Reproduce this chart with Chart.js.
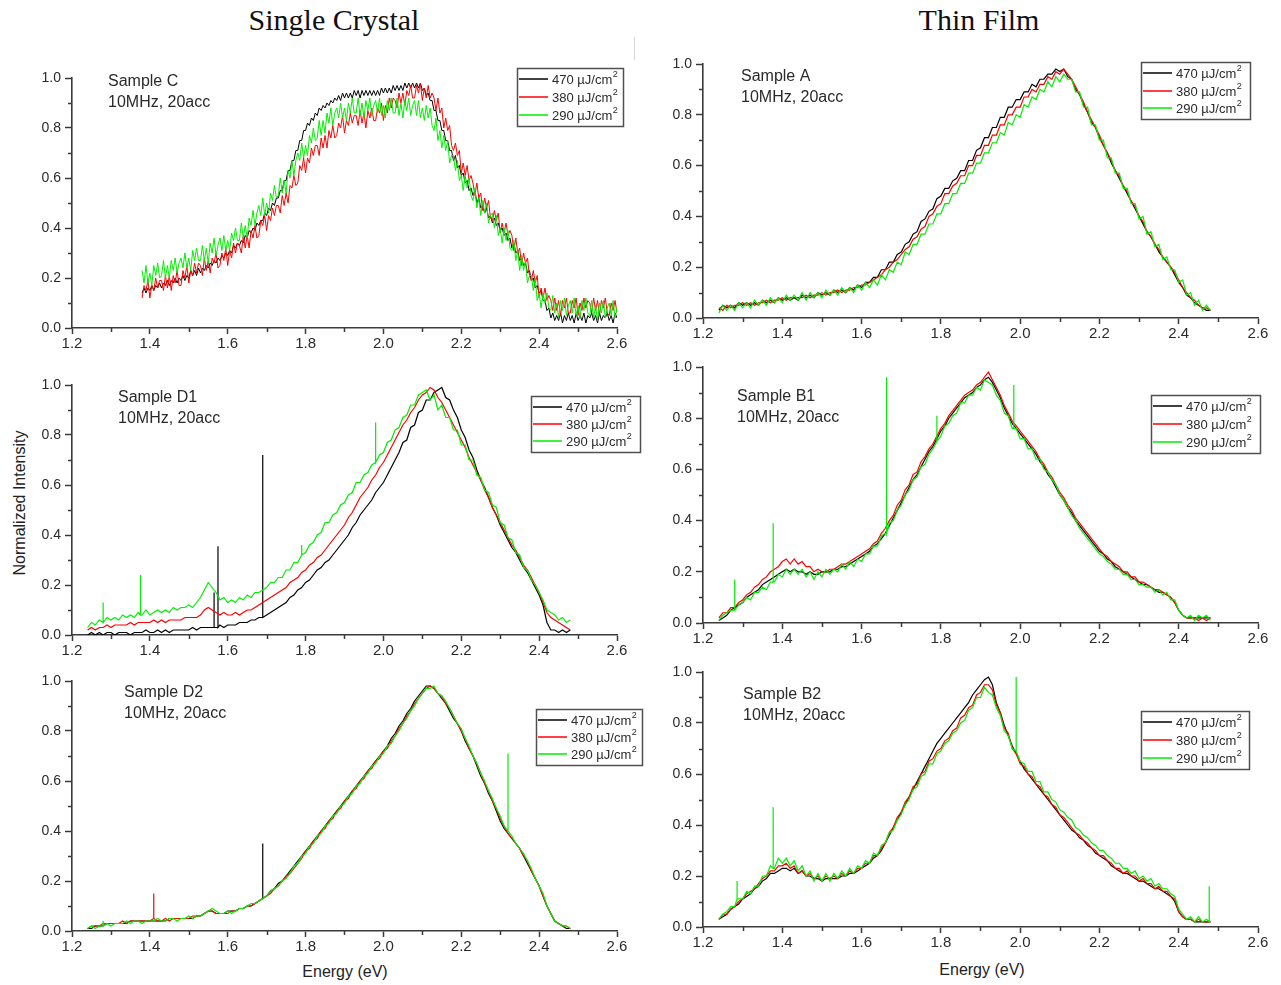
<!DOCTYPE html>
<html>
<head>
<meta charset="utf-8">
<title>PL spectra</title>
<script src="https://cdn.jsdelivr.net/npm/chart.js@4.4.0/dist/chart.umd.min.js"></script>
<style>
    body { margin: 0; background: #fff; width: 1281px; height: 985px; position: relative; overflow: hidden;
           font-family: "Liberation Sans", Arial, sans-serif; }
    canvas { position: absolute; }
    .title { position: absolute; top: 5px; line-height: 1; font-family: "Liberation Serif", "Times New Roman", serif;
             font-size: 30px; color: #111; transform: translateX(-50%); white-space: nowrap; }
    .axis-label { position: absolute; line-height: 1; font-size: 16px; color: #222; white-space: nowrap; }
</style>
</head>
<body>
<div class="title" style="left:334px">Single Crystal</div>
<div class="title" style="left:979px">Thin Film</div>
<div style="position:absolute;left:634px;top:37px;width:1px;height:23px;background:#d6d6d6"></div>
<div class="axis-label" style="left:345px;top:964px;transform:translateX(-50%)">Energy (eV)</div>
<div class="axis-label" style="left:982px;top:962px;transform:translateX(-50%)">Energy (eV)</div>
<div class="axis-label" style="left:20px;top:503px;transform:translate(-50%,-50%) rotate(-90deg)">Normalized Intensity</div>

<script>
//////////////
//
//   DATA
//
//////////////

    var stepC = 0.005;      // sample C was recorded on a finer grid
    var stepRest = 0.01;
    var startC = 1.38;
    var startRest = 1.24;

    var xTicks = [1.2, 1.4, 1.6, 1.8, 2.0, 2.2, 2.4, 2.6];
    var yTicks = [0.0, 0.2, 0.4, 0.6, 0.8, 1.0];

    var fluenceLabels = ['470 µJ/cm²', '380 µJ/cm²', '290 µJ/cm²'];
    var seriesColors = ['#000000', '#ff0000', '#00ee00'];

    // ---- Sample C (single crystal), 1.380 .. 2.600 eV, 0.005 eV steps
    var c470 = [
        0.14,0.16,0.14,0.16,0.15,0.17,0.15,0.17,0.16,0.18,
        0.16,0.18,0.17,0.19,0.17,0.19,0.18,0.20,0.18,0.20,
        0.19,0.21,0.19,0.21,0.20,0.23,0.21,0.23,0.21,0.24,
        0.22,0.24,0.23,0.25,0.24,0.26,0.25,0.27,0.26,0.28,
        0.27,0.29,0.28,0.30,0.29,0.31,0.30,0.33,0.32,0.34,
        0.33,0.35,0.34,0.37,0.36,0.39,0.38,0.40,0.39,0.42,
        0.41,0.43,0.43,0.46,0.45,0.48,0.47,0.50,0.49,0.52,
        0.52,0.55,0.55,0.59,0.59,0.63,0.63,0.67,0.67,0.71,
        0.71,0.75,0.75,0.79,0.79,0.82,0.81,0.84,0.83,0.86,
        0.85,0.88,0.87,0.89,0.88,0.90,0.89,0.91,0.90,0.92,
        0.91,0.93,0.91,0.94,0.92,0.94,0.92,0.94,0.92,0.95,
        0.93,0.95,0.92,0.95,0.93,0.95,0.93,0.95,0.93,0.95,
        0.93,0.95,0.93,0.96,0.94,0.96,0.94,0.96,0.94,0.97,
        0.95,0.97,0.95,0.97,0.95,0.98,0.96,0.98,0.96,0.98,
        0.96,0.98,0.96,0.98,0.95,0.96,0.93,0.94,0.91,0.91,
        0.87,0.87,0.83,0.83,0.79,0.79,0.75,0.75,0.71,0.71,
        0.67,0.69,0.64,0.65,0.61,0.62,0.58,0.59,0.55,0.56,
        0.53,0.55,0.50,0.52,0.48,0.49,0.46,0.48,0.44,0.45,
        0.42,0.44,0.41,0.42,0.39,0.40,0.37,0.38,0.35,0.36,
        0.32,0.34,0.30,0.31,0.27,0.28,0.25,0.26,0.22,0.23,
        0.19,0.20,0.16,0.17,0.14,0.15,0.11,0.11,0.07,0.08,
        0.04,0.06,0.03,0.05,0.03,0.06,0.02,0.05,0.03,0.06,
        0.03,0.05,0.02,0.06,0.03,0.05,0.03,0.06,0.02,0.05,
        0.04,0.06,0.03,0.05,0.02,0.06,0.03,0.05,0.04,0.06,
        0.03,0.05,0.02,0.06,0.04
    ];
    var c380 = [
        0.12,0.17,0.15,0.19,0.12,0.17,0.15,0.20,0.16,0.19,
        0.19,0.15,0.21,0.16,0.21,0.15,0.21,0.18,0.23,0.17,
        0.17,0.23,0.20,0.25,0.18,0.23,0.21,0.26,0.22,0.26,
        0.25,0.21,0.28,0.23,0.27,0.22,0.28,0.26,0.30,0.24,
        0.25,0.30,0.27,0.32,0.25,0.31,0.28,0.34,0.30,0.34,
        0.33,0.30,0.37,0.32,0.37,0.32,0.39,0.36,0.41,0.36,
        0.37,0.43,0.41,0.45,0.39,0.45,0.43,0.48,0.45,0.49,
        0.49,0.46,0.53,0.49,0.54,0.50,0.57,0.56,0.61,0.57,
        0.58,0.65,0.63,0.68,0.62,0.68,0.66,0.72,0.69,0.73,
        0.73,0.69,0.76,0.72,0.77,0.72,0.79,0.76,0.81,0.76,
        0.77,0.82,0.80,0.85,0.78,0.83,0.81,0.86,0.82,0.85,
        0.85,0.81,0.87,0.82,0.86,0.80,0.87,0.84,0.88,0.83,
        0.83,0.88,0.86,0.90,0.83,0.89,0.86,0.92,0.88,0.92,
        0.91,0.88,0.94,0.90,0.94,0.89,0.95,0.93,0.97,0.92,
        0.92,0.97,0.94,0.98,0.91,0.96,0.92,0.97,0.92,0.94,
        0.92,0.87,0.92,0.86,0.88,0.80,0.84,0.79,0.81,0.73,
        0.71,0.74,0.69,0.71,0.62,0.66,0.61,0.65,0.59,0.61,
        0.58,0.53,0.58,0.52,0.54,0.47,0.52,0.48,0.51,0.44,
        0.43,0.47,0.43,0.46,0.38,0.42,0.38,0.42,0.37,0.39,
        0.37,0.31,0.36,0.30,0.32,0.25,0.30,0.26,0.28,0.21,
        0.19,0.23,0.18,0.21,0.12,0.16,0.12,0.16,0.11,0.13,
        0.11,0.07,0.12,0.07,0.11,0.05,0.11,0.08,0.12,0.06,
        0.06,0.11,0.08,0.12,0.05,0.10,0.07,0.12,0.08,0.11,
        0.10,0.06,0.12,0.07,0.11,0.05,0.11,0.08,0.12,0.06,
        0.05,0.10,0.07,0.11,0.06
    ];
    var c290 = [
        0.23,0.18,0.25,0.18,0.22,0.17,0.25,0.21,0.26,0.20,
        0.21,0.27,0.20,0.25,0.20,0.27,0.23,0.28,0.22,0.26,
        0.28,0.24,0.30,0.24,0.28,0.23,0.31,0.27,0.32,0.27,
        0.27,0.33,0.27,0.32,0.26,0.34,0.30,0.36,0.29,0.33,
        0.36,0.31,0.37,0.31,0.35,0.31,0.38,0.35,0.40,0.35,
        0.35,0.42,0.36,0.41,0.36,0.44,0.41,0.47,0.41,0.46,
        0.49,0.45,0.52,0.45,0.50,0.46,0.54,0.51,0.57,0.52,
        0.53,0.60,0.54,0.59,0.54,0.63,0.60,0.67,0.61,0.67,
        0.70,0.67,0.74,0.68,0.73,0.69,0.77,0.74,0.80,0.75,
        0.76,0.83,0.77,0.83,0.78,0.86,0.82,0.88,0.81,0.86,
        0.88,0.84,0.90,0.84,0.88,0.83,0.90,0.86,0.92,0.86,
        0.86,0.92,0.85,0.90,0.84,0.91,0.87,0.92,0.85,0.89,
        0.91,0.86,0.92,0.85,0.89,0.84,0.91,0.87,0.92,0.86,
        0.86,0.92,0.85,0.90,0.84,0.91,0.87,0.92,0.85,0.89,
        0.91,0.85,0.91,0.84,0.88,0.83,0.89,0.84,0.88,0.81,
        0.79,0.84,0.75,0.79,0.72,0.77,0.71,0.75,0.66,0.69,
        0.69,0.63,0.67,0.59,0.61,0.55,0.61,0.56,0.60,0.53,
        0.51,0.56,0.48,0.52,0.45,0.51,0.46,0.50,0.42,0.45,
        0.46,0.40,0.45,0.37,0.40,0.34,0.40,0.35,0.39,0.32,
        0.31,0.35,0.27,0.31,0.23,0.29,0.23,0.27,0.18,0.21,
        0.21,0.15,0.20,0.11,0.14,0.08,0.14,0.10,0.14,0.08,
        0.07,0.13,0.06,0.10,0.04,0.11,0.07,0.12,0.05,0.09,
        0.11,0.06,0.12,0.05,0.09,0.04,0.11,0.07,0.12,0.06,
        0.05,0.11,0.04,0.09,0.03,0.10,0.06,0.11,0.04,0.08,
        0.10,0.05,0.11,0.04,0.08
    ];

    // ---- Sample D1 (single crystal), 1.24 .. 2.48 eV
    var d1_470 = [
        0.00,0.01,0.00,0.01,0.00,0.01,0.01,0.00,0.01,0.01,
        0.01,0.00,0.01,0.01,0.01,0.02,0.01,0.01,0.02,0.01,
        0.02,0.01,0.02,0.02,0.02,0.02,0.02,0.03,0.02,0.03,
        0.03,0.03,0.03,0.03,0.04,0.03,0.04,0.04,0.04,0.05,
        0.05,0.05,0.06,0.06,0.07,0.07,0.08,0.09,0.10,0.11,
        0.12,0.13,0.15,0.16,0.18,0.19,0.21,0.22,0.24,0.26,
        0.27,0.29,0.30,0.32,0.34,0.36,0.38,0.40,0.43,0.45,
        0.48,0.50,0.52,0.54,0.57,0.59,0.61,0.64,0.67,0.70,
        0.73,0.77,0.78,0.83,0.84,0.89,0.90,0.94,0.94,0.97,
        0.98,0.99,0.95,0.94,0.90,0.87,0.82,0.79,0.74,0.71,
        0.66,0.62,0.59,0.55,0.51,0.48,0.44,0.41,0.38,0.35,
        0.33,0.30,0.27,0.25,0.22,0.19,0.16,0.12,0.05,0.02,
        0.02,0.01,0.02,0.01,0.02
    ];
    var d1_380 = [
        0.02,0.03,0.02,0.03,0.03,0.04,0.03,0.04,0.04,0.04,
        0.04,0.05,0.04,0.05,0.05,0.05,0.05,0.06,0.05,0.06,
        0.05,0.06,0.06,0.06,0.06,0.07,0.07,0.07,0.07,0.08,
        0.10,0.11,0.10,0.09,0.08,0.09,0.08,0.08,0.09,0.08,
        0.09,0.10,0.10,0.11,0.12,0.13,0.14,0.15,0.16,0.17,
        0.18,0.19,0.21,0.22,0.23,0.25,0.26,0.28,0.29,0.31,
        0.32,0.34,0.36,0.38,0.40,0.42,0.44,0.47,0.49,0.52,
        0.55,0.57,0.59,0.62,0.64,0.67,0.69,0.72,0.75,0.78,
        0.81,0.84,0.86,0.89,0.91,0.94,0.96,0.97,0.99,0.98,
        0.95,0.93,0.90,0.87,0.84,0.81,0.78,0.75,0.71,0.68,
        0.65,0.62,0.58,0.55,0.51,0.48,0.45,0.42,0.39,0.36,
        0.34,0.31,0.28,0.26,0.23,0.20,0.17,0.13,0.09,0.07,
        0.06,0.05,0.04,0.03,0.02
    ];
    var d1_290 = [
        0.03,0.05,0.04,0.06,0.05,0.07,0.06,0.07,0.06,0.08,
        0.07,0.08,0.07,0.09,0.08,0.10,0.08,0.09,0.10,0.09,
        0.10,0.09,0.11,0.10,0.11,0.11,0.12,0.11,0.13,0.15,
        0.18,0.21,0.19,0.17,0.14,0.15,0.13,0.14,0.13,0.15,
        0.14,0.16,0.15,0.17,0.17,0.18,0.19,0.21,0.21,0.23,
        0.23,0.26,0.26,0.29,0.29,0.32,0.33,0.36,0.37,0.40,
        0.41,0.45,0.45,0.48,0.49,0.52,0.53,0.56,0.57,0.61,
        0.61,0.64,0.65,0.68,0.69,0.72,0.73,0.77,0.78,0.82,
        0.83,0.87,0.88,0.92,0.92,0.96,0.97,0.98,0.94,0.96,
        0.90,0.92,0.87,0.87,0.82,0.82,0.76,0.76,0.70,0.70,
        0.64,0.63,0.58,0.57,0.52,0.51,0.45,0.44,0.39,0.38,
        0.33,0.32,0.27,0.26,0.22,0.20,0.17,0.14,0.10,0.09,
        0.08,0.06,0.07,0.05,0.06
    ];
    // cosmic ray spikes: energy, peak, series (0 = 470, 1 = 380, 2 = 290)
    var d1SpikeE = [1.565, 1.575, 1.69, 1.28, 1.376, 1.79, 1.98];
    var d1SpikeTop = [0.17, 0.355, 0.72, 0.13, 0.24, 0.36, 0.85];
    var d1SpikeSeries = [0, 0, 0, 2, 2, 2, 2];

    // ---- Sample D2 (single crystal)
    var d2_470 = [
        0.01,0.01,0.02,0.02,0.02,0.03,0.03,0.03,0.03,0.03,
        0.03,0.04,0.04,0.04,0.04,0.04,0.04,0.04,0.04,0.04,
        0.04,0.05,0.05,0.05,0.05,0.05,0.05,0.05,0.06,0.06,
        0.07,0.08,0.08,0.07,0.07,0.07,0.08,0.08,0.08,0.09,
        0.09,0.10,0.10,0.11,0.12,0.13,0.14,0.16,0.17,0.19,
        0.20,0.22,0.24,0.26,0.28,0.30,0.32,0.34,0.36,0.38,
        0.40,0.42,0.44,0.46,0.48,0.50,0.52,0.54,0.56,0.58,
        0.60,0.62,0.64,0.66,0.68,0.70,0.72,0.74,0.77,0.79,
        0.82,0.84,0.87,0.89,0.92,0.94,0.96,0.98,0.98,0.97,
        0.95,0.93,0.91,0.88,0.85,0.83,0.80,0.76,0.73,0.70,
        0.66,0.62,0.59,0.55,0.52,0.48,0.44,0.41,0.39,0.37,
        0.35,0.33,0.30,0.27,0.24,0.21,0.18,0.14,0.10,0.07,
        0.04,0.03,0.02,0.01,0.01
    ];
    var d2_380 = [
        0.01,0.02,0.02,0.02,0.03,0.03,0.03,0.03,0.03,0.04,
        0.03,0.04,0.04,0.04,0.04,0.04,0.04,0.05,0.04,0.04,
        0.05,0.04,0.05,0.05,0.05,0.05,0.05,0.06,0.06,0.06,
        0.07,0.08,0.08,0.07,0.07,0.07,0.07,0.08,0.08,0.09,
        0.09,0.10,0.10,0.11,0.12,0.13,0.14,0.15,0.17,0.18,
        0.20,0.22,0.23,0.25,0.27,0.29,0.32,0.33,0.36,0.37,
        0.40,0.41,0.44,0.45,0.48,0.49,0.52,0.53,0.56,0.57,
        0.60,0.61,0.64,0.65,0.68,0.69,0.72,0.73,0.76,0.78,
        0.81,0.83,0.86,0.88,0.91,0.93,0.95,0.97,0.98,0.97,
        0.95,0.94,0.91,0.89,0.86,0.83,0.80,0.77,0.73,0.70,
        0.67,0.63,0.59,0.56,0.52,0.49,0.45,0.42,0.39,0.37,
        0.35,0.33,0.30,0.28,0.24,0.21,0.18,0.14,0.10,0.07,
        0.04,0.03,0.02,0.02,0.01
    ];
    var d2_290 = [
        0.01,0.02,0.01,0.02,0.02,0.03,0.02,0.03,0.03,0.03,
        0.04,0.03,0.04,0.04,0.03,0.04,0.04,0.04,0.05,0.04,
        0.04,0.05,0.05,0.04,0.05,0.05,0.06,0.05,0.06,0.06,
        0.07,0.08,0.09,0.08,0.07,0.07,0.08,0.07,0.08,0.09,
        0.09,0.10,0.11,0.11,0.12,0.13,0.14,0.16,0.17,0.18,
        0.20,0.21,0.23,0.26,0.27,0.30,0.31,0.34,0.35,0.38,
        0.39,0.42,0.43,0.46,0.47,0.50,0.51,0.54,0.55,0.58,
        0.59,0.62,0.63,0.66,0.67,0.70,0.71,0.74,0.75,0.78,
        0.80,0.83,0.85,0.88,0.90,0.93,0.95,0.97,0.97,0.98,
        0.95,0.94,0.92,0.89,0.86,0.83,0.81,0.77,0.74,0.70,
        0.67,0.63,0.60,0.56,0.53,0.49,0.46,0.42,0.40,0.38,
        0.35,0.33,0.31,0.28,0.25,0.21,0.18,0.15,0.10,0.07,
        0.04,0.03,0.02,0.02,0.01
    ];
    var d2SpikeE = [1.69, 1.41, 2.32, 1.28];
    var d2SpikeTop = [0.35, 0.15, 0.71, 0.04];
    var d2SpikeSeries = [0, 1, 2, 2];

    // ---- Sample A (thin film)
    var a470 = [
        0.03,0.05,0.04,0.05,0.04,0.06,0.05,0.06,0.05,0.06,
        0.05,0.07,0.06,0.07,0.06,0.08,0.07,0.08,0.07,0.08,
        0.07,0.09,0.08,0.09,0.08,0.10,0.09,0.10,0.09,0.11,
        0.10,0.11,0.10,0.12,0.11,0.13,0.12,0.14,0.14,0.16,
        0.16,0.19,0.19,0.22,0.22,0.25,0.26,0.29,0.30,0.33,
        0.34,0.38,0.39,0.42,0.43,0.47,0.48,0.51,0.51,0.54,
        0.55,0.58,0.58,0.62,0.62,0.66,0.67,0.71,0.71,0.75,
        0.75,0.79,0.79,0.83,0.83,0.86,0.86,0.89,0.89,0.92,
        0.91,0.94,0.94,0.96,0.96,0.98,0.97,0.98,0.95,0.94,
        0.90,0.88,0.84,0.81,0.77,0.75,0.71,0.68,0.65,0.61,
        0.58,0.55,0.52,0.49,0.46,0.43,0.40,0.37,0.34,0.32,
        0.29,0.26,0.24,0.22,0.20,0.17,0.14,0.12,0.09,0.08,
        0.06,0.05,0.04,0.03,0.03
    ];
    var a380 = [
        0.04,0.03,0.05,0.04,0.05,0.05,0.06,0.05,0.06,0.05,
        0.06,0.06,0.07,0.06,0.07,0.07,0.08,0.07,0.08,0.08,
        0.08,0.08,0.09,0.08,0.09,0.09,0.10,0.09,0.10,0.10,
        0.11,0.10,0.11,0.11,0.12,0.12,0.13,0.13,0.14,0.15,
        0.16,0.17,0.19,0.20,0.22,0.23,0.25,0.27,0.28,0.31,
        0.32,0.35,0.36,0.40,0.41,0.44,0.45,0.49,0.49,0.52,
        0.53,0.56,0.56,0.60,0.60,0.64,0.64,0.68,0.68,0.72,
        0.72,0.76,0.76,0.80,0.80,0.83,0.83,0.87,0.87,0.90,
        0.89,0.92,0.92,0.95,0.94,0.97,0.96,0.98,0.96,0.94,
        0.91,0.88,0.85,0.81,0.78,0.75,0.72,0.68,0.65,0.62,
        0.58,0.56,0.52,0.50,0.46,0.44,0.40,0.38,0.34,0.32,
        0.29,0.27,0.24,0.22,0.20,0.18,0.15,0.12,0.10,0.08,
        0.07,0.05,0.04,0.04,0.03
    ];
    var a290 = [
        0.02,0.05,0.03,0.05,0.03,0.06,0.04,0.06,0.04,0.07,
        0.05,0.07,0.05,0.08,0.06,0.08,0.06,0.09,0.07,0.09,
        0.07,0.10,0.07,0.10,0.08,0.10,0.08,0.11,0.09,0.11,
        0.09,0.12,0.10,0.12,0.10,0.13,0.11,0.14,0.12,0.15,
        0.13,0.17,0.15,0.19,0.18,0.22,0.21,0.26,0.25,0.29,
        0.29,0.33,0.33,0.37,0.37,0.41,0.41,0.45,0.45,0.49,
        0.49,0.53,0.53,0.57,0.57,0.61,0.61,0.65,0.65,0.69,
        0.69,0.73,0.72,0.77,0.76,0.80,0.79,0.84,0.83,0.87,
        0.86,0.90,0.89,0.93,0.91,0.95,0.93,0.96,0.94,0.94,
        0.89,0.89,0.83,0.83,0.76,0.76,0.70,0.70,0.63,0.63,
        0.57,0.57,0.51,0.51,0.45,0.45,0.39,0.40,0.33,0.34,
        0.28,0.29,0.23,0.24,0.19,0.19,0.14,0.15,0.09,0.10,
        0.05,0.07,0.03,0.05,0.03
    ];

    // ---- Sample B1 (thin film)
    var b1_470 = [
        0.01,0.02,0.03,0.05,0.06,0.07,0.08,0.10,0.11,0.12,
        0.13,0.15,0.16,0.17,0.18,0.19,0.20,0.21,0.20,0.21,
        0.20,0.20,0.19,0.20,0.19,0.19,0.20,0.20,0.20,0.21,
        0.21,0.22,0.22,0.23,0.24,0.25,0.26,0.27,0.28,0.30,
        0.31,0.33,0.35,0.38,0.41,0.44,0.47,0.50,0.53,0.56,
        0.58,0.61,0.64,0.67,0.69,0.72,0.75,0.77,0.80,0.82,
        0.84,0.86,0.88,0.89,0.90,0.92,0.93,0.95,0.96,0.94,
        0.91,0.88,0.84,0.81,0.78,0.76,0.74,0.72,0.70,0.68,
        0.66,0.63,0.61,0.58,0.56,0.53,0.50,0.48,0.45,0.43,
        0.40,0.38,0.36,0.34,0.32,0.30,0.28,0.27,0.25,0.24,
        0.22,0.21,0.20,0.19,0.18,0.17,0.16,0.15,0.15,0.14,
        0.13,0.12,0.12,0.11,0.10,0.08,0.05,0.03,0.02,0.02,
        0.02,0.02,0.02,0.02,0.02
    ];
    var b1_380 = [
        0.02,0.04,0.04,0.06,0.06,0.08,0.09,0.11,0.12,0.14,
        0.15,0.17,0.18,0.20,0.21,0.22,0.24,0.25,0.23,0.25,
        0.23,0.24,0.22,0.22,0.20,0.21,0.20,0.20,0.21,0.21,
        0.22,0.23,0.23,0.24,0.25,0.26,0.27,0.28,0.29,0.31,
        0.32,0.35,0.37,0.40,0.42,0.46,0.48,0.52,0.54,0.58,
        0.59,0.63,0.65,0.68,0.70,0.73,0.76,0.78,0.81,0.83,
        0.85,0.87,0.89,0.90,0.91,0.93,0.94,0.96,0.98,0.95,
        0.92,0.89,0.85,0.82,0.79,0.77,0.75,0.73,0.71,0.69,
        0.67,0.64,0.62,0.59,0.57,0.54,0.51,0.49,0.46,0.44,
        0.41,0.39,0.37,0.35,0.33,0.31,0.29,0.27,0.26,0.24,
        0.23,0.22,0.20,0.20,0.18,0.18,0.16,0.16,0.15,0.14,
        0.13,0.13,0.12,0.11,0.10,0.08,0.05,0.03,0.02,0.02,
        0.02,0.01,0.02,0.01,0.02
    ];
    var b1_290 = [
        0.01,0.03,0.04,0.05,0.05,0.07,0.08,0.10,0.09,0.12,
        0.12,0.14,0.13,0.16,0.16,0.19,0.18,0.21,0.19,0.21,
        0.19,0.21,0.18,0.20,0.17,0.20,0.18,0.21,0.19,0.21,
        0.20,0.23,0.21,0.24,0.22,0.25,0.24,0.27,0.27,0.30,
        0.30,0.34,0.35,0.39,0.40,0.44,0.46,0.50,0.52,0.56,
        0.57,0.61,0.62,0.66,0.68,0.71,0.73,0.77,0.78,0.81,
        0.82,0.86,0.86,0.89,0.89,0.92,0.91,0.95,0.94,0.93,
        0.89,0.87,0.82,0.81,0.76,0.76,0.72,0.72,0.68,0.68,
        0.64,0.64,0.60,0.59,0.56,0.54,0.50,0.48,0.45,0.42,
        0.40,0.37,0.35,0.33,0.31,0.29,0.27,0.26,0.24,0.23,
        0.21,0.21,0.19,0.19,0.17,0.17,0.15,0.15,0.14,0.14,
        0.12,0.13,0.11,0.12,0.09,0.09,0.05,0.03,0.02,0.03,
        0.01,0.03,0.02,0.03,0.01
    ];
    var b1SpikeE = [1.28, 1.377, 1.663, 1.79, 1.984];
    var b1SpikeTop = [0.17, 0.39, 0.96, 0.81, 0.93];
    var b1SpikeSeries = [2, 2, 2, 2, 2];

    // ---- Sample B2 (thin film)
    var b2_470 = [
        0.03,0.04,0.05,0.07,0.08,0.09,0.11,0.12,0.13,0.15,
        0.16,0.18,0.19,0.21,0.21,0.22,0.23,0.23,0.22,0.23,
        0.21,0.22,0.20,0.20,0.19,0.19,0.18,0.19,0.19,0.19,
        0.19,0.20,0.20,0.21,0.21,0.22,0.23,0.24,0.25,0.27,
        0.28,0.30,0.33,0.36,0.39,0.42,0.45,0.48,0.51,0.54,
        0.57,0.60,0.63,0.66,0.69,0.72,0.74,0.76,0.78,0.80,
        0.82,0.84,0.86,0.88,0.91,0.93,0.95,0.97,0.98,0.95,
        0.88,0.84,0.79,0.75,0.71,0.68,0.65,0.62,0.60,0.58,
        0.56,0.54,0.52,0.50,0.48,0.46,0.44,0.42,0.40,0.38,
        0.37,0.35,0.34,0.32,0.31,0.29,0.28,0.27,0.26,0.24,
        0.23,0.22,0.21,0.21,0.20,0.19,0.18,0.18,0.17,0.16,
        0.15,0.15,0.14,0.13,0.12,0.10,0.06,0.04,0.03,0.03,
        0.02,0.02,0.02,0.02,0.02
    ];
    var b2_380 = [
        0.03,0.05,0.05,0.07,0.08,0.10,0.11,0.13,0.14,0.15,
        0.17,0.19,0.20,0.22,0.22,0.24,0.24,0.25,0.23,0.24,
        0.21,0.22,0.20,0.21,0.19,0.20,0.18,0.20,0.19,0.20,
        0.19,0.21,0.20,0.22,0.21,0.23,0.23,0.25,0.25,0.28,
        0.28,0.31,0.33,0.37,0.39,0.43,0.45,0.49,0.51,0.55,
        0.56,0.60,0.61,0.65,0.66,0.69,0.70,0.73,0.74,0.77,
        0.78,0.82,0.83,0.86,0.87,0.91,0.92,0.95,0.95,0.93,
        0.87,0.84,0.78,0.76,0.70,0.68,0.64,0.63,0.60,0.59,
        0.56,0.55,0.52,0.51,0.48,0.47,0.44,0.43,0.41,0.39,
        0.37,0.36,0.34,0.33,0.31,0.30,0.28,0.28,0.26,0.25,
        0.23,0.23,0.21,0.22,0.20,0.20,0.18,0.19,0.17,0.17,
        0.15,0.16,0.14,0.14,0.12,0.11,0.06,0.04,0.03,0.03,
        0.02,0.03,0.02,0.02,0.02
    ];
    var b2_290 = [
        0.03,0.05,0.06,0.08,0.08,0.11,0.11,0.14,0.13,0.16,
        0.16,0.20,0.20,0.24,0.23,0.27,0.25,0.27,0.24,0.26,
        0.22,0.24,0.20,0.22,0.18,0.21,0.18,0.21,0.18,0.21,
        0.19,0.22,0.20,0.23,0.21,0.24,0.23,0.26,0.25,0.29,
        0.28,0.32,0.33,0.37,0.38,0.42,0.44,0.48,0.50,0.54,
        0.55,0.59,0.60,0.64,0.64,0.68,0.69,0.72,0.73,0.76,
        0.77,0.80,0.81,0.85,0.86,0.90,0.90,0.94,0.92,0.91,
        0.86,0.83,0.77,0.75,0.70,0.69,0.65,0.64,0.61,0.61,
        0.57,0.57,0.53,0.53,0.50,0.49,0.46,0.45,0.43,0.42,
        0.39,0.38,0.36,0.35,0.33,0.32,0.30,0.30,0.28,0.27,
        0.25,0.25,0.23,0.23,0.21,0.22,0.19,0.20,0.18,0.19,
        0.16,0.17,0.15,0.15,0.13,0.12,0.07,0.05,0.03,0.04,
        0.02,0.04,0.02,0.03,0.02
    ];
    var b2SpikeE = [1.286, 1.377, 1.99, 2.477];
    var b2SpikeTop = [0.18, 0.47, 0.98, 0.16];
    var b2SpikeSeries = [2, 2, 2, 2];


//////////////
//
//   PANELS (page coordinates of each plot area, caption and legend box)
//
//////////////

    var panels = [
        { title: 'Sample C',  start: startC,    step: stepC,    series: [c470, c380, c290],
          spikes: null, lineWidth: 1,
          area: [72, 78, 617, 328],   note: [108, 86],  legend: [517, 68, 106, 58] },
        { title: 'Sample D1', start: startRest, step: stepRest, series: [d1_470, d1_380, d1_290],
          spikes: [d1SpikeE, d1SpikeTop, d1SpikeSeries], lineWidth: 1.2,
          area: [72, 385, 617, 635],  note: [118, 402], legend: [531, 396, 109, 56] },
        { title: 'Sample D2', start: startRest, step: stepRest, series: [d2_470, d2_380, d2_290],
          spikes: [d2SpikeE, d2SpikeTop, d2SpikeSeries], lineWidth: 1.2,
          area: [72, 681, 617, 931],  note: [124, 697], legend: [536, 709, 106, 56] },
        { title: 'Sample A',  start: startRest, step: stepRest, series: [a470, a380, a290],
          spikes: null, lineWidth: 1.2,
          area: [703, 64, 1258, 318], note: [741, 81],  legend: [1141, 62, 109, 57] },
        { title: 'Sample B1', start: startRest, step: stepRest, series: [b1_470, b1_380, b1_290],
          spikes: [b1SpikeE, b1SpikeTop, b1SpikeSeries], lineWidth: 1.2,
          area: [703, 367, 1258, 623], note: [737, 401], legend: [1151, 395, 109, 58] },
        { title: 'Sample B2', start: startRest, step: stepRest, series: [b2_470, b2_380, b2_290],
          spikes: [b2SpikeE, b2SpikeTop, b2SpikeSeries], lineWidth: 1.2,
          area: [703, 672, 1258, 927], note: [743, 699], legend: [1141, 711, 108, 58] }
    ];

    var padL = 60, padT = 25, padR = 35, padB = 30;
    var axisColor = '#3a3a3a';
    var textColor = '#2a2a2a';

    // spectrum on the energy grid, with the spikes of this series put in as vertical strokes
    function buildPoints(start, step, vals, spikes, idx) {
        var pts = vals.map(function(v, i) {
            return { x: +(start + i * step).toFixed(3), y: v };
        });
        if (!spikes) return pts;
        for (var s = 0; s < spikes[0].length; s++) {
            if (spikes[2][s] !== idx) continue;
            var e = spikes[0][s];
            var n = Math.min(Math.max(Math.round((e - start) / step), 0), vals.length - 1);
            var base = vals[n];
            var k = pts.findIndex(function(p) { return p.x > e; });
            if (k < 0) k = pts.length;
            pts.splice(k, 0, { x: e, y: base }, { x: e, y: spikes[1][s] }, { x: e, y: base });
        }
        return pts;
    }

    // minor ticks halfway between the major ones, plus caption and boxed legend
    var panelDecor = {
        id: 'panelDecor',
        afterDraw: function(chart) {
            var ctx = chart.ctx;
            var p = chart.options.plugins.panelDecor.panel;
            var ox = p.area[0] - padL, oy = p.area[1] - padT;
            var xs = chart.scales.x, ys = chart.scales.y, ca = chart.chartArea;

            ctx.save();
            ctx.strokeStyle = axisColor;
            ctx.lineWidth = 1.5;
            ctx.beginPath();
            for (var i = 0; i < xTicks.length - 1; i++) {
                var px = Math.round(xs.getPixelForValue((xTicks[i] + xTicks[i + 1]) / 2)) + 0.5;
                ctx.moveTo(px, ca.bottom);
                ctx.lineTo(px, ca.bottom + 4);
            }
            for (var j = 0; j < yTicks.length - 1; j++) {
                var py = Math.round(ys.getPixelForValue((yTicks[j] + yTicks[j + 1]) / 2)) + 0.5;
                ctx.moveTo(ca.left, py);
                ctx.lineTo(ca.left - 4, py);
            }
            ctx.stroke();

            // caption
            ctx.fillStyle = textColor;
            ctx.font = '16px "Liberation Sans", Arial, sans-serif';
            ctx.textBaseline = 'alphabetic';
            ctx.textAlign = 'left';
            ctx.fillText(p.title, p.note[0] - ox, p.note[1] - oy);
            ctx.fillText('10MHz, 20acc', p.note[0] - ox, p.note[1] - oy + 21);

            // legend box
            var lx = p.legend[0] - ox, ly = p.legend[1] - oy, lw = p.legend[2], lh = p.legend[3];
            ctx.fillStyle = '#ffffff';
            ctx.fillRect(lx, ly, lw, lh);
            ctx.strokeStyle = '#505050';
            ctx.lineWidth = 1.5;
            ctx.strokeRect(lx + 0.5, ly + 0.5, lw, lh);
            var rowH = (lh - 4) / 3;
            for (var k = 0; k < fluenceLabels.length; k++) {
                var ry = Math.round(ly + 2 + rowH * (k + 0.5));
                ctx.strokeStyle = seriesColors[k];
                ctx.lineWidth = 1.5;
                ctx.beginPath();
                ctx.moveTo(lx + 2, ry);
                ctx.lineTo(lx + 31, ry);
                ctx.stroke();
                var label = fluenceLabels[k];
                var sup = '';
                if (label.slice(-1) === '²') { sup = '2'; label = label.slice(0, -1); }
                ctx.fillStyle = textColor;
                ctx.font = '13px "Liberation Sans", Arial, sans-serif';
                ctx.textBaseline = 'middle';
                ctx.fillText(label, lx + 35, ry + 1);
                if (sup) {
                    var w = ctx.measureText(label).width;
                    ctx.font = '9px "Liberation Sans", Arial, sans-serif';
                    ctx.fillText(sup, lx + 35 + w + 0.5, ry - 4);
                }
            }
            ctx.restore();
        }
    };

    function makePanel(p) {
        var w = p.area[2] - p.area[0] + padL + padR;
        var h = p.area[3] - p.area[1] + padT + padB;
        var cv = document.createElement('canvas');
        cv.width = w;
        cv.height = h;
        cv.style.left = (p.area[0] - padL) + 'px';
        cv.style.top = (p.area[1] - padT) + 'px';
        cv.style.width = w + 'px';
        cv.style.height = h + 'px';
        document.body.appendChild(cv);

        var datasets = p.series.map(function(vals, k) {
            return {
                label: fluenceLabels[k],
                data: buildPoints(p.start, p.step, vals, p.spikes, k),
                borderColor: seriesColors[k],
                backgroundColor: seriesColors[k],
                borderWidth: p.lineWidth,
                pointRadius: 0,
                tension: 0,
                fill: false,
                order: 3 - k     // 290 uJ trace drawn on top
            };
        });

        return new Chart(cv.getContext('2d'), {
            type: 'line',
            data: { datasets: datasets },
            options: {
                responsive: false,
                animation: false,
                layout: { padding: { left: 0, top: padT, right: padR, bottom: 0 } },
                plugins: {
                    legend: { display: false },
                    tooltip: { enabled: false },
                    panelDecor: { panel: p }
                },
                scales: {
                    x: {
                        type: 'linear',
                        min: xTicks[0],
                        max: xTicks[xTicks.length - 1],
                        afterFit: function(scale) { scale.height = padB; },
                        afterBuildTicks: function(scale) {
                            scale.ticks = xTicks.map(function(v) { return { value: v }; });
                        },
                        ticks: {
                            autoSkip: false,
                            maxRotation: 0,
                            padding: 1,
                            color: textColor,
                            font: { family: '"Liberation Sans", Arial, sans-serif', size: 15 },
                            callback: function(v) { return Number(v).toFixed(1); }
                        },
                        grid: { drawOnChartArea: false, drawTicks: true, tickLength: 6,
                                tickColor: axisColor, tickWidth: 1.5 },
                        border: { display: true, color: axisColor, width: 1.6 }
                    },
                    y: {
                        type: 'linear',
                        min: yTicks[0],
                        max: yTicks[yTicks.length - 1],
                        afterFit: function(scale) { scale.width = padL; },
                        afterBuildTicks: function(scale) {
                            scale.ticks = yTicks.map(function(v) { return { value: v }; });
                        },
                        ticks: {
                            autoSkip: false,
                            padding: 4,
                            color: textColor,
                            font: { family: '"Liberation Sans", Arial, sans-serif', size: 14 },
                            callback: function(v) { return Number(v).toFixed(1); }
                        },
                        grid: { drawOnChartArea: false, drawTicks: true, tickLength: 7,
                                tickColor: axisColor, tickWidth: 1.5 },
                        border: { display: true, color: axisColor, width: 1.6 }
                    }
                }
            },
            plugins: [panelDecor]
        });
    }

    window.onload = function() {
        window.panelCharts = panels.map(makePanel);
    };
</script>
</body>
</html>
